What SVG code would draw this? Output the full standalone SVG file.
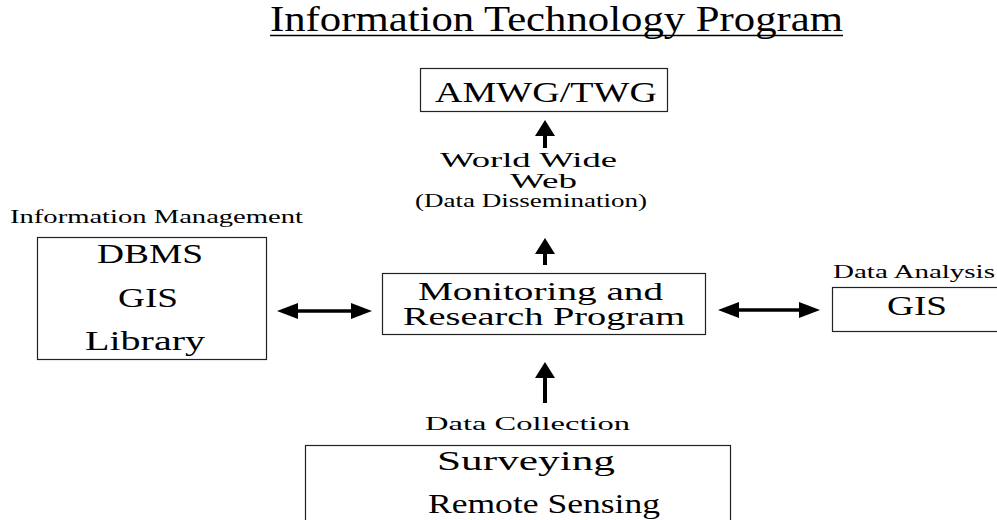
<svg xmlns="http://www.w3.org/2000/svg" width="997" height="520" viewBox="0 0 997 520">
<style>
text{font-family:"Liberation Serif","Times New Roman",serif;fill:#000}
.box{fill:#fff;stroke:#222;stroke-width:1.2}
.big{font-size:27px}
.conn{stroke:#000;fill:none}
</style>
<defs>
<marker id="headV" markerUnits="userSpaceOnUse" markerWidth="16" markerHeight="20" refX="1" refY="10" orient="auto-start-reverse" viewBox="0 0 16 20">
<path d="M0,0 L16,10 L0,20 z" fill="#000"/>
</marker>
<marker id="headH" markerUnits="userSpaceOnUse" markerWidth="21" markerHeight="16" refX="1" refY="8" orient="auto-start-reverse" viewBox="0 0 21 16">
<path d="M0,0 L21,8 L0,16 z" fill="#000"/>
</marker>
</defs>
<rect width="997" height="520" fill="#fff"/>
<g id="title">
<text x="270" y="31" font-size="36" textLength="573" lengthAdjust="spacingAndGlyphs">Information Technology Program</text>
<line x1="270" y1="35.5" x2="843" y2="35.5" stroke="#000" stroke-width="1.5"/>
</g>
<g id="amwg">
<rect class="box" x="420.5" y="68.5" width="247" height="43"/>
<text x="435" y="102" font-size="30" textLength="222" lengthAdjust="spacingAndGlyphs">AMWG/TWG</text>
</g>
<g id="www">
<text x="440" y="167" font-size="20" textLength="177" lengthAdjust="spacingAndGlyphs">World Wide</text>
<text x="510" y="188" font-size="20" textLength="67" lengthAdjust="spacingAndGlyphs">Web</text>
<text x="415" y="207" font-size="18" textLength="232" lengthAdjust="spacingAndGlyphs">(Data Dissemination)</text>
</g>
<g id="info-mgmt">
<text x="10" y="223" font-size="18" textLength="293" lengthAdjust="spacingAndGlyphs">Information Management</text>
<rect class="box" x="37.5" y="237.5" width="229" height="122"/>
<text x="97" y="263" class="big" textLength="106" lengthAdjust="spacingAndGlyphs">DBMS</text>
<text x="118" y="307" class="big" textLength="60" lengthAdjust="spacingAndGlyphs">GIS</text>
<text x="85" y="350" class="big" textLength="120" lengthAdjust="spacingAndGlyphs">Library</text>
</g>
<g id="monitoring">
<rect class="box" x="382.5" y="273.5" width="323" height="61"/>
<text x="418" y="300" font-size="25" textLength="245" lengthAdjust="spacingAndGlyphs">Monitoring and</text>
<text x="403" y="325" font-size="25" textLength="282" lengthAdjust="spacingAndGlyphs">Research Program</text>
</g>
<g id="data-analysis">
<text x="833" y="278" font-size="18" textLength="162" lengthAdjust="spacingAndGlyphs">Data Analysis</text>
<rect class="box" x="832.5" y="287.5" width="170" height="44"/>
<text x="887" y="315" class="big" textLength="60" lengthAdjust="spacingAndGlyphs">GIS</text>
</g>
<g id="data-collection">
<text x="425" y="430" font-size="18" textLength="205" lengthAdjust="spacingAndGlyphs">Data Collection</text>
<rect class="box" x="305.5" y="445.5" width="425" height="90"/>
<text x="437" y="470" class="big" textLength="178" lengthAdjust="spacingAndGlyphs">Surveying</text>
<text x="428" y="513" class="big" textLength="232" lengthAdjust="spacingAndGlyphs">Remote Sensing</text>
</g>
<g id="connectors">
<line class="conn" x1="545" y1="148" x2="545" y2="135" stroke-width="4" marker-end="url(#headV)"/>
<line class="conn" x1="545" y1="265" x2="545" y2="253" stroke-width="4" marker-end="url(#headV)"/>
<line class="conn" x1="545" y1="403" x2="545" y2="377" stroke-width="4" marker-end="url(#headV)"/>
<line class="conn" x1="297" y1="311" x2="352" y2="311" stroke-width="3.5" marker-start="url(#headH)" marker-end="url(#headH)"/>
<line class="conn" x1="738" y1="310" x2="800" y2="310" stroke-width="3.5" marker-start="url(#headH)" marker-end="url(#headH)"/>
</g>
</svg>
